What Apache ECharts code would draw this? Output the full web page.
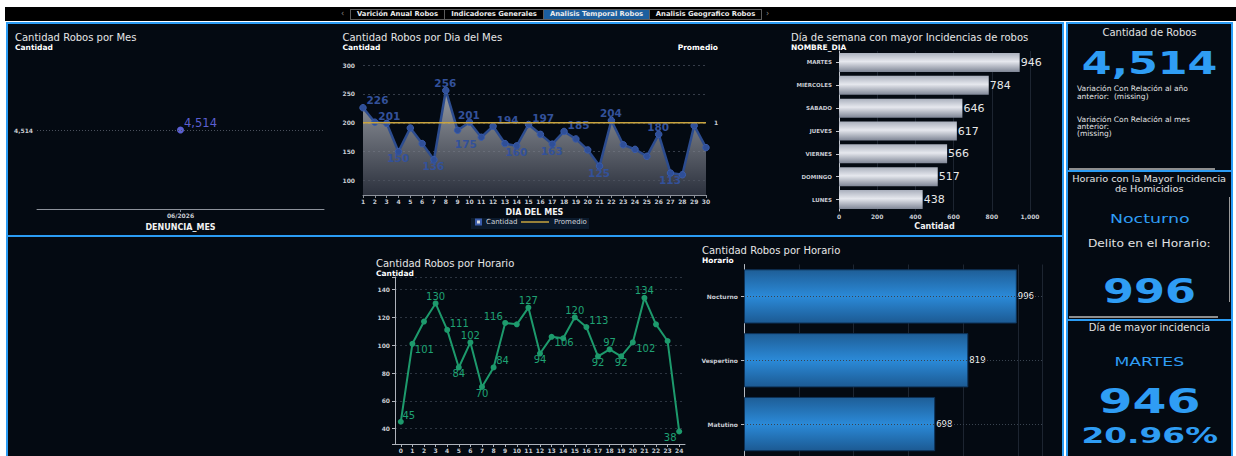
<!DOCTYPE html>
<html><head><meta charset="utf-8">
<script src="https://cdn.jsdelivr.net/npm/echarts@6/dist/echarts.min.js"></script>
<style>
html,body{margin:0;padding:0;background:#fff;width:1236px;height:456px;overflow:hidden;font-family:"DejaVu Sans",sans-serif;}
#band{position:absolute;left:5px;top:7px;width:1231px;height:14px;background:#000;}
.tab{position:absolute;top:9px;height:10.5px;border:1px solid #5c5c5c;color:#ececec;font-size:6.8px;font-weight:bold;line-height:9px;text-align:center;box-sizing:border-box;white-space:nowrap;}
.arrow{position:absolute;top:8px;color:#888;font-size:8px;line-height:12px;}
.panel{position:absolute;border:2px solid #2b9cf4;background:#040a12;box-sizing:border-box;}
#chart{position:absolute;left:0;top:0;width:1236px;height:456px;}
.kt{position:absolute;left:1066px;width:167px;text-align:center;white-space:nowrap;color:#e2e2e2;z-index:5;}
.kt span{display:inline-block;}
.kl{position:absolute;left:1077px;white-space:pre;color:#e2e2e2;font-size:7.5px;z-index:5;}
.bar{position:absolute;background:#8e8e8e;z-index:5;}
.blue{color:#2f9df4;}
</style>
</head>
<body>
<div id="band"></div>
<div class="arrow" style="left:341px">&#8249;</div>
<div class="tab" style="left:350px;width:95px">Varición Anual Robos</div>
<div class="tab" style="left:444px;width:100px">Indicadores Generales</div>
<div class="tab" style="left:543px;width:107px;background:#1c5f9f;">Analisis Temporal Robos</div>
<div class="tab" style="left:649px;width:113px">Analisis Geografico Robos</div>
<div class="arrow" style="left:766px">&#8250;</div>

<div class="panel" style="left:6px;top:22px;width:1058px;height:215px"></div>
<div class="panel" style="left:6px;top:235px;width:1058px;height:230px"></div>
<div class="panel" style="left:1066px;top:22px;width:167px;height:150px"></div>
<div class="panel" style="left:1066px;top:170px;width:167px;height:151px"></div>
<div class="panel" style="left:1066px;top:319px;width:167px;height:150px"></div>

<div id="chart"></div>

<div class="kt" style="top:26.5px;height:12px;line-height:12px;font-size:10px;">Cantidad de Robos</div>
<div class="kt blue" style="top:45px;height:36px;line-height:36px;font-size:32px;font-weight:bold;"><span id="kTotal" style="transform:scaleX(1.34)"></span></div>
<div class="kl" style="top:85.4px;line-height:7.3px;">Variación Con Relación al año
anterior:  (missing)</div>
<div class="kl" style="top:115.5px;line-height:7px;">Variación Con Relación al mes
anterior:
(missing)</div>
<div class="bar" style="left:1069px;top:168.3px;width:146px;height:1.5px;"></div>

<div class="kt" style="top:175.4px;line-height:9.5px;font-size:9px;"><span style="transform:scaleX(1.08)">Horario con la Mayor Incidencia<br>de Homicidios</span></div>
<div class="kt blue" style="top:211.3px;height:16px;line-height:16px;font-size:13px;"><span id="kHorario" style="transform:scaleX(1.34)"></span></div>
<div class="kt" style="top:237.3px;height:14px;line-height:14px;font-size:10px;"><span style="transform:scaleX(1.22)">Delito en el Horario:</span></div>
<div class="kt blue" style="top:272.7px;height:38px;line-height:38px;font-size:33px;font-weight:bold;"><span id="kHorarioVal" style="transform:scaleX(1.35)"></span></div>
<div class="bar" style="left:1228.5px;top:197px;width:1.6px;height:105px;background:#9a9a9a"></div>
<div class="bar" style="left:1069px;top:316px;width:149px;height:1.5px;"></div>

<div class="kt" style="top:322.3px;height:12px;line-height:12px;font-size:10px;">Día de mayor incidencia</div>
<div class="kt blue" style="top:354.3px;height:16px;line-height:16px;font-size:12.5px;"><span id="kDia" style="transform:scaleX(1.38)"></span></div>
<div class="kt blue" style="top:382.7px;height:38px;line-height:38px;font-size:33px;font-weight:bold;"><span id="kDiaVal" style="transform:scaleX(1.48)"></span></div>
<div class="kt blue" style="top:423.5px;height:25px;line-height:25px;font-size:21px;font-weight:bold;"><span id="kPct" style="transform:scaleX(1.56)"></span></div>

<script>
// ---------- DATA ----------
const mesCategorias = ['06/2026'];
const mesValores = [4514];

const diasMes = ['1','2','3','4','5','6','7','8','9','10','11','12','13','14','15','16','17','18','19','20','21','22','23','24','25','26','27','28','29','30'];
const cantidadDia = [226,201,199,150,191,164,136,256,187,201,175,194,164,160,197,180,163,185,172,153,125,204,162,154,142,180,113,110,195,157];
const promedioDia = [200,200,200,200,200,200,200,200,200,200,200,200,200,200,200,200,200,200,200,200,200,200,200,200,200,200,200,200,200,200];

const diasSemana = ['MARTES','MIÉRCOLES','SÁBADO','JUEVES','VIERNES','DOMINGO','LUNES'];
const cantidadSemana = [946,784,646,617,566,517,438];

const horas = ['0','1','2','3','4','5','6','7','8','9','10','11','12','13','14','15','16','17','18','19','20','21','22','23','24'];
const cantidadHora = [45,101,117,130,111,84,102,70,84,116,115,127,94,106,105,120,113,92,97,92,102,134,115,103,38];

const horarios = ['Nocturno','Vespertino','Matutino'];
const cantidadHorario = [996,819,698];

// ---------- STYLE (label placement offsets, px from point centre) ----------
const diaLabelOffsets = {0:[15,-7],1:[15,-6],3:[0,7],6:[0,7],7:[0,-7],9:[0,-7],10:[-15,7],11:[15,-6],13:[0,7],14:[15,-6],16:[0,7],17:[15,-6],20:[0,7],21:[0,-7],25:[0,-7],26:[0,7]};
const horaLabelOffsets = {0:[8,-6],1:[12,6],3:[0,-7],4:[12,-6],5:[0,6.5],6:[0,-6.5],7:[0,6.5],8:[9,-6.5],9:[-12,-6],11:[0,-7],12:[0,6],13:[12.5,5.5],15:[0,-7],16:[12.5,-6.5],17:[0,6],18:[0,-7],19:[0,6],20:[13,6],21:[0,-7],24:[-9,6]};

const fmt = v => Number(v).toLocaleString('en-US');

function withLabels(values, offsets, size, style){
  return values.map((v,i)=>{
    const o = offsets[i];
    if(!o) return {value:v, label:{show:false}};
    return {value:v, label:Object.assign({show:true, position:[o[0]+size/2, o[1]+size/2], align:'center', verticalAlign:'middle', formatter: p=>fmt(p.value)}, style)};
  });
}

// KPIs
document.getElementById('kTotal').textContent = fmt(mesValores[0]);
document.getElementById('kHorario').textContent = horarios[0];
document.getElementById('kHorarioVal').textContent = fmt(cantidadHorario[0]);
document.getElementById('kDia').textContent = diasSemana[0];
document.getElementById('kDiaVal').textContent = fmt(cantidadSemana[0]);
document.getElementById('kPct').textContent = (cantidadSemana[0]/mesValores[0]*100).toFixed(2)+'%';

const tickLbl = {fontSize:6, fontWeight:'bold', color:'#c9ccd2', fontFamily:'DejaVu Sans'};
const nameStyle = {fontSize:8, fontWeight:'bold', color:'#f2f2f2', fontFamily:'DejaVu Sans'};
const axisGray = {lineStyle:{color:'#8d929b'}};

function txt(text, x, y, font, fill, align){
  return {type:'text', x:x, y:y, silent:true, style:{text:text, font:font, fill:fill||'#e6e6e6', verticalAlign:'middle', align:align||'left'}};
}

const chart = echarts.init(document.getElementById('chart'), null, {renderer:'svg'});
const option = {
  animation:false,
  backgroundColor:'transparent',
  textStyle:{fontFamily:'DejaVu Sans'},
  grid:[
    {left:37, top:51, width:287, height:158},
    {left:363, top:65, width:343, height:130},
    {left:839, top:51, width:191, height:160},
    {left:395, top:277, width:290, height:167},
    {left:744, top:264.5, width:298, height:191.5}
  ],
  xAxis:[
    {gridIndex:0, type:'category', data:mesCategorias, axisLine:axisGray,
     axisTick:{show:true, alignWithLabel:true, length:3, lineStyle:{color:'#8d929b'}},
     axisLabel:Object.assign({margin:3}, tickLbl),
     name:'DENUNCIA_MES', nameLocation:'middle', nameGap:14, nameTextStyle:nameStyle},
    {gridIndex:1, type:'category', data:diasMes, boundaryGap:false, axisLine:axisGray,
     axisTick:{show:true, length:3, lineStyle:{color:'#8d929b'}},
     axisLabel:Object.assign({interval:0, margin:3}, tickLbl),
     name:'DIA DEL MES', nameLocation:'middle', nameGap:13, nameTextStyle:nameStyle},
    {gridIndex:2, type:'value', min:0, max:1000, interval:200,
     axisLine:{show:false}, axisTick:{show:false},
     axisLabel:Object.assign({margin:2, formatter:v=>fmt(v)}, tickLbl),
     splitLine:{lineStyle:{color:'#1d2531'}},
     name:'Cantidad', nameLocation:'middle', nameGap:11, nameTextStyle:nameStyle},
    {gridIndex:3, type:'category', data:horas, boundaryGap:true,
     axisLine:{lineStyle:{color:'#aeb3bb'}},
     axisTick:{show:true, alignWithLabel:true, length:3, lineStyle:{color:'#aeb3bb'}},
     axisLabel:Object.assign({interval:0, margin:3}, tickLbl)},
    {gridIndex:4, type:'value', min:0, max:1088, interval:200,
     axisLabel:{show:false}, axisLine:{show:false}, axisTick:{show:false},
     splitLine:{lineStyle:{color:'#1d2531'}}}
  ],
  yAxis:[
    {gridIndex:0, type:'value', min:4014, max:5014, interval:500,
     axisLabel:Object.assign({margin:4, formatter:v=>Math.abs(v-mesValores[0])<1e-6?fmt(v):''}, tickLbl),
     splitLine:{show:false}, axisLine:{show:false}, axisTick:{show:false}},
    {gridIndex:1, type:'value', min:75, max:300,
     axisLabel:Object.assign({margin:8, formatter:v=>v%50===0?String(v):''}, tickLbl),
     splitLine:{lineStyle:{color:'#363d49', type:[2,3]}}, axisLine:{show:false}, axisTick:{show:false}},
    {gridIndex:1, type:'value', position:'right', min:0, max:1.8, interval:1,
     axisLabel:Object.assign({margin:8, formatter:v=>v===1?'1':''}, tickLbl),
     splitLine:{show:false}, axisLine:{show:false}, axisTick:{show:false}},
    {gridIndex:2, type:'category', data:diasSemana, inverse:true,
     axisLine:{lineStyle:{color:'#c3c7ce'}},
     axisTick:{show:true, alignWithLabel:true, length:3, lineStyle:{color:'#c3c7ce'}},
     axisLabel:Object.assign({}, tickLbl, {fontSize:5.5, margin:7})},
    {gridIndex:3, type:'value', min:29, max:149,
     axisLine:{show:true, lineStyle:{color:'#aeb3bb'}},
     axisTick:{show:true, length:3, lineStyle:{color:'#aeb3bb'}},
     axisLabel:Object.assign({margin:5, formatter:v=>v%20===0?String(v):''}, tickLbl),
     splitLine:{lineStyle:{color:'#2c3440', type:[2,3]}}},
    {gridIndex:4, type:'category', data:horarios, inverse:true,
     axisLine:{lineStyle:{color:'#b5bac2'}},
     axisTick:{show:true, alignWithLabel:true, length:3, lineStyle:{color:'#b5bac2'}},
     axisLabel:Object.assign({margin:6}, tickLbl)}
  ],
  legend:[
    {data:[{name:'Cantidad', icon:'rect', itemStyle:{color:'#d5d8de'}}], left:475, top:218.5, padding:0,
     itemWidth:5, itemHeight:5, selectedMode:false, textStyle:{color:'#cfd2d8', fontSize:7, fontFamily:'DejaVu Sans'}},
    {data:[{name:'Promedio', icon:'rect', itemStyle:{color:'#c9a43e'}}], left:521, top:218.5, padding:0,
     itemWidth:28, itemHeight:1.5, selectedMode:false, textStyle:{color:'#cfd2d8', fontSize:7, fontFamily:'DejaVu Sans'}}
  ],
  graphic:[
    {type:'rect', silent:true, z:-10, shape:{x:471, y:218, width:118, height:11}, style:{fill:'#0b1a2c'}},
    txt('Cantidad Robos por Mes', 15, 37.3, '10px "DejaVu Sans"'),
    txt('Cantidad', 15, 47.3, 'bold 7.5px "DejaVu Sans"', '#ffffff'),
    txt('Cantidad Robos por Dia del Mes', 342.5, 37.5, '10px "DejaVu Sans"'),
    txt('Cantidad', 342.5, 47.3, 'bold 7.5px "DejaVu Sans"', '#ffffff'),
    txt('Promedio', 718, 47.3, 'bold 7.5px "DejaVu Sans"', '#ffffff', 'right'),
    txt('Día de semana con mayor Incidencias de robos', 791, 37.5, '10px "DejaVu Sans"'),
    txt('NOMBRE_DIA', 791, 47.5, 'bold 7.5px "DejaVu Sans"', '#ffffff'),
    txt('Cantidad Robos por Horario', 376, 263.3, '10px "DejaVu Sans"'),
    txt('Cantidad', 376, 273.3, 'bold 7.5px "DejaVu Sans"', '#ffffff'),
    txt('Cantidad Robos por Horario', 702, 250.7, '10px "DejaVu Sans"'),
    txt('Horario', 702, 260.3, 'bold 7.5px "DejaVu Sans"', '#ffffff')
  ],
  series:[
    {type:'line', xAxisIndex:0, yAxisIndex:0, symbol:'circle', symbolSize:7,
     data: withLabels(mesValores, {0:[20,-7]}, 7, {fontSize:11.5, color:'#5b5fd0'}),
     itemStyle:{color:'#5b5fd0'}, lineStyle:{color:'#5b5fd0'},
     markLine:{silent:true, symbol:'none', label:{show:false}, lineStyle:{color:'#4a505c', type:[1,2], width:1},
       data:[{yAxis:mesValores[0]}]}},
    {name:'Cantidad', type:'line', xAxisIndex:1, yAxisIndex:1, symbol:'circle', symbolSize:6.5, z:3,
     data: withLabels(cantidadDia, diaLabelOffsets, 6.5, {fontSize:10.5, fontWeight:'bold', color:'#33519a'}),
     lineStyle:{color:'#2c4c8f', width:2.5},
     itemStyle:{color:'#2f4f98', borderColor:'#3a5cab', borderWidth:1},
     areaStyle:{color:new echarts.graphic.LinearGradient(0,0,0,1,[{offset:0,color:'#d6d9e0'},{offset:1,color:'#3d4250'}])}},
    {name:'Promedio', type:'line', xAxisIndex:1, yAxisIndex:1, data:promedioDia, symbol:'none', z:4,
     lineStyle:{color:'#c9a43e', width:1.5}, itemStyle:{color:'#c9a43e'}},
    {type:'bar', xAxisIndex:2, yAxisIndex:3, data:cantidadSemana, barCategoryGap:'17%',
     itemStyle:{color:new echarts.graphic.LinearGradient(0,0,0,1,[{offset:0,color:'#aab0bd'},{offset:0.45,color:'#e6e8ee'},{offset:1,color:'#7f8696'}])},
     label:{show:true, position:'right', distance:1, fontSize:11, color:'#e8e8e8'}},
    {type:'line', xAxisIndex:3, yAxisIndex:4, symbol:'circle', symbolSize:6,
     data: withLabels(cantidadHora, horaLabelOffsets, 6, {fontSize:10, color:'#1fa374'}),
     lineStyle:{color:'#1d9a6c', width:2}, itemStyle:{color:'#1d9a6c'}},
    {type:'line', xAxisIndex:4, yAxisIndex:5, data:[], z:1,
     markLine:{silent:true, symbol:'none', label:{show:false}, lineStyle:{color:'#3a4450', type:[1,2], width:1},
       data: horarios.map(h=>({yAxis:h}))}},
    {type:'bar', xAxisIndex:4, yAxisIndex:5, data:cantidadHorario, barCategoryGap:'15%', z:2,
     itemStyle:{borderColor:'#0e3257', borderWidth:1,
       color:new echarts.graphic.LinearGradient(0,0,0,1,[{offset:0,color:'#1e5e97'},{offset:0.5,color:'#2b8ad8'},{offset:1,color:'#1c5a93'}])},
     label:{show:true, position:'right', distance:1, fontSize:8.5, color:'#eeeeee'}}
  ]
};
chart.setOption(option);
</script>
</body></html>
